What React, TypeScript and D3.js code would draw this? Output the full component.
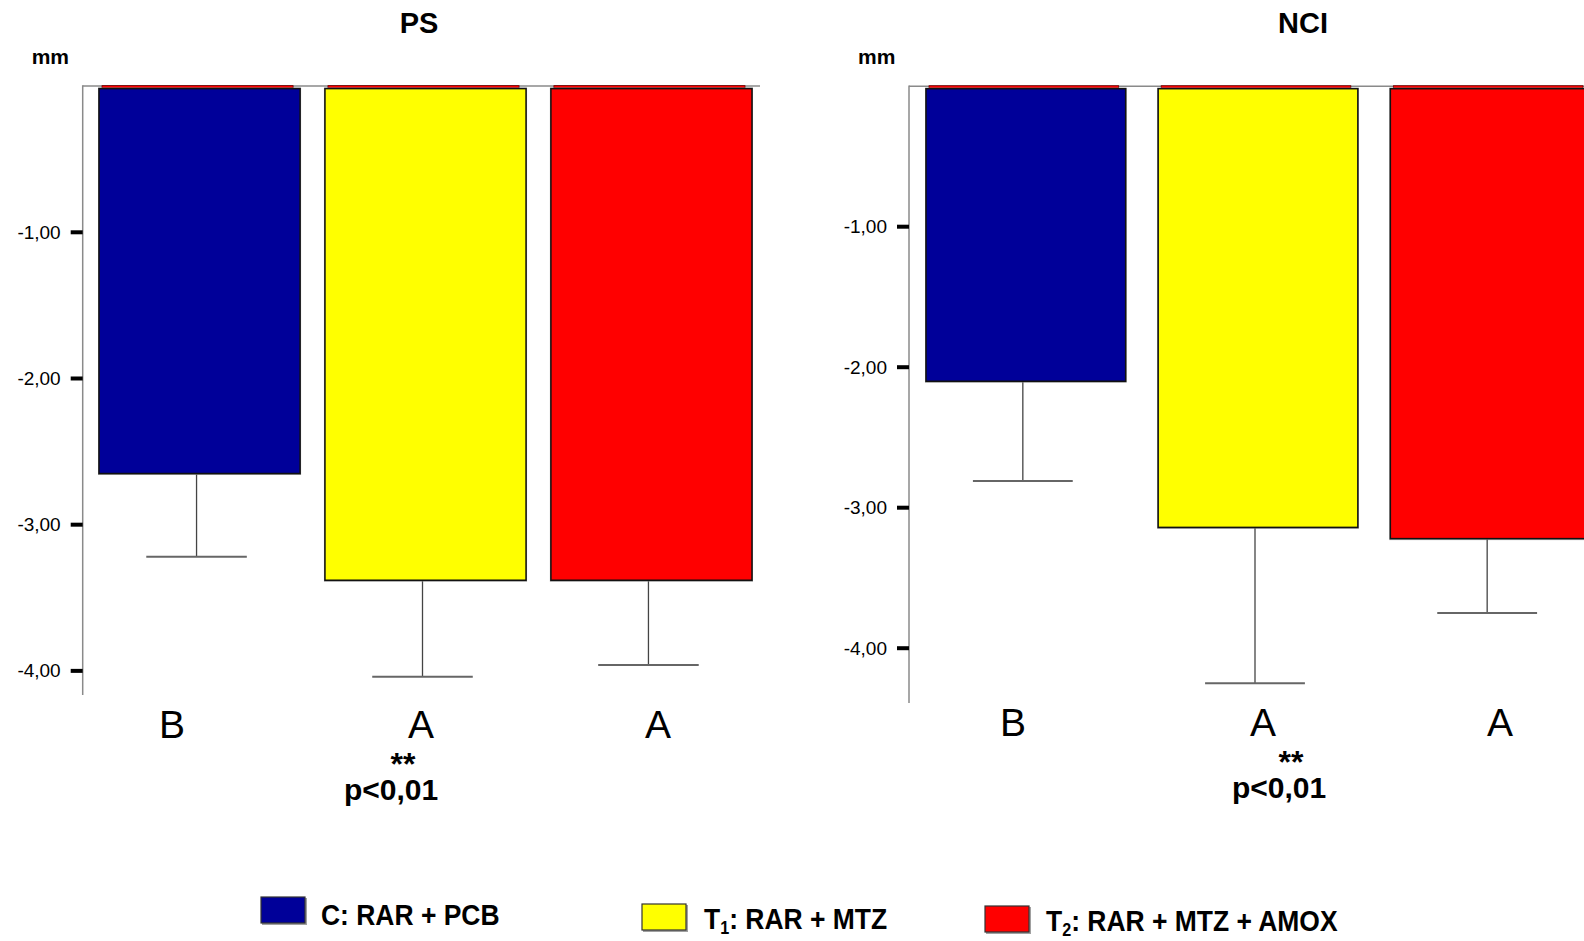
import React from "react";
import * as d3 from "d3";

// Treatment groups, shared by both panels
const groups = ["C", "T1", "T2"];
const groupColors = ["#000099", "#FFFF00", "#FF0000"];
const groupLetters = ["B", "A", "A"];

// PS: mean change (mm) and error
const psMeans = [-2.65, -3.38, -3.38];
const psErrors = [0.57, 0.66, 0.58];

// NCI: mean change (mm) and error
const nciMeans = [-2.1, -3.14, -3.22];
const nciErrors = [0.71, 1.11, 0.53];

const yTickValues = [-1, -2, -3, -4];
const fmt = (v: number) => d3.format(".2f")(v).replace("\u2212", "-").replace(".", ",");

const FONT = "'Liberation Sans', Arial, Helvetica, sans-serif";

type PanelProps = {
  title: string;
  means: number[];
  errors: number[];
  axisX: number;
  titleX: number;
  xRange: [number, number];
  padInner: number;
  yDomain: [number, number];
  yRange: [number, number];
  letterXs: number[];
  letterY: number;
  sigX: number;
  sigY: number;
  frameRight: number;
};

function Panel(p: PanelProps) {
  const x = d3.scaleBand<string>().domain(groups).range(p.xRange).paddingInner(p.padInner).paddingOuter(0);
  const y = d3.scaleLinear().domain(p.yDomain).range(p.yRange);
  const lx = d3.scaleOrdinal<string, number>().domain(groups).range(p.letterXs);
  const y0 = y(0);
  const bw = x.bandwidth();
  const capW = bw * 0.5;

  return (
    <g>
      <text x={p.titleX} y={33} textAnchor="middle" fontFamily={FONT} fontWeight="bold" fontSize={29}>
        {p.title}
      </text>
      <text x={p.axisX - 51} y={64} fontFamily={FONT} fontWeight="bold" fontSize={21}>
        mm
      </text>

      {/* top frame at zero */}
      <line x1={p.axisX} x2={p.frameRight} y1={y0} y2={y0} stroke="#8a8a8a" strokeWidth={1.5} />

      {/* bars */}
      {groups.map((g, i) => {
        const x0 = x(g)!;
        const top = y0 + 2.5;
        const bottom = y(p.means[i]);
        return (
          <g key={g}>
            <rect x={x0 + 3} y={y0 - 0.5} width={bw - 10} height={2.5} fill="#FF0000" stroke="#6b0000" strokeWidth={0.8} />
            <rect x={x0 - 0.5} y={top - 0.5} width={bw + 1} height={bottom - top + 1.5} fill="none" stroke="#9a9a9a" strokeWidth={1} />
            <rect x={x0} y={top} width={bw} height={bottom - top} fill={groupColors[i]} stroke="#111" strokeWidth={1.5} />
          </g>
        );
      })}

      {/* error bars */}
      {groups.map((g, i) => {
        const cx = x(g)! + bw / 2 - 3;
        const yb = y(p.means[i]);
        const ye = y(p.means[i] - p.errors[i]);
        return (
          <g key={"e" + g}>
            <line x1={cx} x2={cx} y1={yb + 1} y2={ye} stroke="#444" strokeWidth={1.3} />
            <line x1={cx - capW / 2} x2={cx + capW / 2} y1={ye} y2={ye} stroke="#666" strokeWidth={2} />
          </g>
        );
      })}

      {/* y axis */}
      <line x1={p.axisX} x2={p.axisX} y1={y0 - 0.75} y2={p.yRange[1]} stroke="#8a8a8a" strokeWidth={1.5} />
      {yTickValues.map((t) => (
        <g key={t}>
          <line x1={p.axisX - 12} x2={p.axisX} y1={y(t)} y2={y(t)} stroke="#000" strokeWidth={4} />
          <text x={p.axisX - 22} y={y(t) + 6.5} textAnchor="end" fontFamily={FONT} fontSize={19}>
            {fmt(t)}
          </text>
        </g>
      ))}

      {/* group letters */}
      {groups.map((g, i) => (
        <text key={"l" + g} x={lx(g)} y={p.letterY} textAnchor="middle" fontFamily={FONT} fontSize={39}>
          {groupLetters[i]}
        </text>
      ))}

      {/* significance note, two lines */}
      <text textAnchor="middle" fontFamily={FONT} fontWeight="bold">
        <tspan x={p.sigX + 12} y={p.sigY - 25} fontSize={32}>
          **
        </tspan>
        <tspan x={p.sigX} y={p.sigY} fontSize={30}>
          p&lt;0,01
        </tspan>
      </text>
    </g>
  );
}

const legendLabels: { main: string; sub?: string; rest: string }[] = [
  { main: "C", rest: ": RAR + PCB" },
  { main: "T", sub: "1", rest: ": RAR + MTZ" },
  { main: "T", sub: "2", rest: ": RAR + MTZ + AMOX" },
];

function Legend() {
  const pos = [
    { sx: 261, sy: 897, tx: 321, ty: 925 },
    { sx: 642, sy: 904, tx: 704, ty: 929 },
    { sx: 985, sy: 906, tx: 1046, ty: 931 },
  ];
  return (
    <g>
      {legendLabels.map((l, i) => {
        const q = pos[i];
        return (
          <g key={i}>
            <rect x={q.sx + 1} y={q.sy + 1} width={45} height={27} fill="#a0a0a0" />
            <rect x={q.sx} y={q.sy} width={44} height={26} fill={groupColors[i]} stroke="#333" strokeWidth={1.2} />
            <g transform={`translate(${q.tx},${q.ty}) scale(1.08,1.2)`}>
              <text x={0} y={0} fontFamily={FONT} fontWeight="bold" fontSize={24.5}>
                {l.main}
                {l.sub ? (
                  <tspan fontSize={15} dy={4}>
                    {l.sub}
                  </tspan>
                ) : null}
                {l.sub ? <tspan dy={-4}>{l.rest}</tspan> : l.rest}
              </text>
            </g>
          </g>
        );
      })}
    </g>
  );
}

export default function App() {
  return (
    <div style={{ position: "absolute", left: 0, top: 0 }}>
      <svg width={1584} height={941} style={{ display: "block", background: "#fff" }}>
        <Panel
          title="PS"
          means={psMeans}
          errors={psErrors}
          axisX={82.7}
          titleX={419}
          xRange={[99, 752]}
          padInner={0.11}
          yDomain={[0, -4.165]}
          yRange={[86.1, 695]}
          letterXs={[172, 421, 658]}
          letterY={738}
          sigX={391}
          sigY={800}
          frameRight={760}
        />
        <Panel
          title="NCI"
          means={nciMeans}
          errors={nciErrors}
          axisX={909}
          titleX={1303}
          xRange={[926, 1590]}
          padInner={0.14}
          yDomain={[0, -4.39]}
          yRange={[86.2, 703]}
          letterXs={[1013, 1263, 1500]}
          letterY={736}
          sigX={1279}
          sigY={798}
          frameRight={1584}
        />
        <Legend />
      </svg>
    </div>
  );
}
